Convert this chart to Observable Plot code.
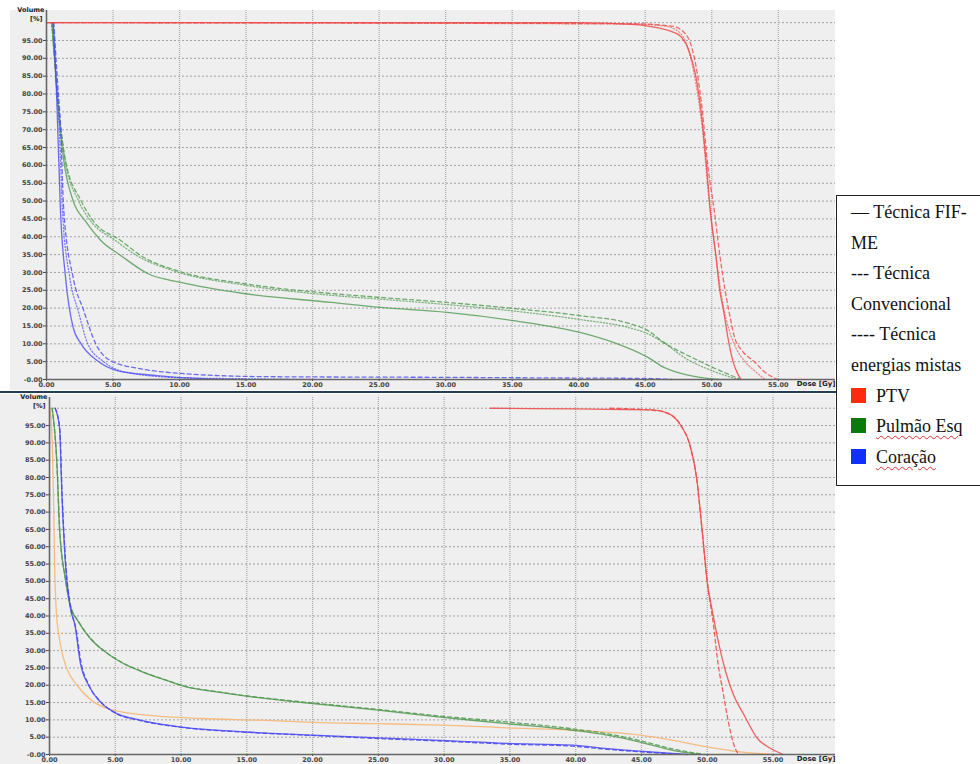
<!DOCTYPE html>
<html>
<head>
<meta charset="utf-8">
<script src="https://cdn.jsdelivr.net/npm/d3@7"></script>
<script src="https://cdn.jsdelivr.net/npm/@observablehq/plot@0.6"></script>
<style>
  body { margin: 0; width: 980px; height: 764px; background: #fff; position: relative; overflow: hidden; font-family: "DejaVu Sans", sans-serif; }
  #bgTop { position: absolute; left: 10px; top: 10px; width: 825px; height: 380px; background: #efefef; }
  #bgBot { position: absolute; left: 0px; top: 394px; width: 835px; height: 370px; background: #efefef; }
  #top { position: absolute; left: 0; top: 0; }
  #bot { position: absolute; left: 0; top: 392px; }
  #divider { position: absolute; left: 0; top: 390.5px; width: 836px; height: 2.5px; background: #243b5c; }
  #legend { position: absolute; left: 836px; top: 195px; width: 141px; height: 288px; border: 1.5px solid #222; background: #fff;
            font-family: "Liberation Serif", "DejaVu Serif", serif; font-size: 18px; color: #111; padding: 1px 0 0 14px; box-sizing: content-box; }
  #legend .row { height: 30.6px; line-height: 30.6px; white-space: nowrap; font-family: "Liberation Serif", "DejaVu Serif", serif; }
  #legend .sw { display: inline-block; width: 15px; height: 15px; vertical-align: -1px; margin-right: 10px; }
  #legend .spell { text-decoration: underline wavy #e03030; text-decoration-thickness: 1px; text-underline-offset: 3px; }
</style>
</head>
<body>
<div id="bgTop"></div>
<div id="bgBot"></div>
<div id="top"></div>
<div id="bot"></div>
<div id="divider"></div>
<div id="legend"></div>
<script>
// ---------- data: [dose (Gy), volume (%)] ----------
// Top panel
const ptvFifTop  = [[0,100],[40,100],[44,99.5],[46,98.5],[47,97.5],[47.7,96],[48.3,92],[48.8,85],[49.2,75],[49.6,60],[49.9,47],[50.3,35],[50.6,25],[50.9,19],[51.2,12],[51.6,5],[51.9,2],[52.2,0]];
const ptvConvTop = [[0,100],[44,99.7],[47,99],[48,97],[48.5,93],[48.9,86],[49.3,75],[49.7,60],[50.2,47],[50.6,35],[51,25],[51.3,19],[51.7,12],[52.3,8],[53.2,5],[54,2],[55,0]];
const ptvMistTop = [[0,100],[44,99.6],[46.5,99],[47.5,97.5],[48.2,93],[48.8,83],[49.3,70],[49.8,50],[50.3,35],[50.8,22],[51.3,14],[51.8,9],[52.5,5],[53.2,2.5],[54,0]];

const pulmFifTop  = [[0.4,100],[0.6,90],[0.9,75.4],[1.3,61.3],[2.0,50.1],[2.9,44.5],[4.1,38.9],[5.6,34.7],[7.6,29.7],[10.1,27.2],[14.8,24.1],[21.4,21.6],[25.1,20.2],[30.1,18.8],[35.1,16.5],[40.1,13.2],[42.6,10.4],[45.2,6.2],[46.4,3.4],[47.7,1.7],[49.7,0.3],[50.5,0]];
const pulmConvTop = [[0.4,100],[0.6,90],[0.95,75],[1.43,61.3],[2.6,50.1],[3.5,44.5],[5.6,38.9],[7.1,34.7],[9.8,30.5],[14.8,26.9],[21.4,24.1],[25.1,23],[30.1,21.6],[35.1,19.9],[40.1,17.9],[43.8,15.7],[45.2,13.7],[46.4,10.4],[49,5.3],[51.1,1.7],[52.2,0]];
const pulmMistTop = [[0.4,100],[0.6,90],[0.95,75],[1.4,61.3],[2.4,50.1],[3.3,44.5],[5.2,38.9],[6.8,34.7],[9.5,30.5],[14.8,26.5],[21.4,23.6],[25.1,22.5],[30.1,21],[35.1,19.2],[40.1,16.8],[43.8,14.5],[45.2,12.8],[46.5,10],[48,6],[50,2.5],[52,0]];

const corFifTop  = [[0.5,100],[0.65,90],[0.8,75.4],[1.05,47.3],[1.43,28.6],[2.0,14.6],[2.6,10],[3.8,5.3],[5.3,2.5],[8.3,1.1],[11.4,0.3],[15,0]];
const corConvTop = [[0.55,100],[0.8,85],[1.05,71],[1.3,47.3],[2.0,28.6],[2.8,19.3],[3.7,10],[4.8,5.3],[7.1,3.0],[10.1,1.7],[16.3,0.8],[30,0.6],[40,0.4],[45,0.3],[47,0]];
const corMistTop = [[0.5,100],[0.7,85],[0.95,71],[1.2,47.3],[1.75,28.6],[2.4,19],[3.1,10],[4.3,5],[6,2],[10,0.5],[15,0.2],[20,0]];

// Bottom panel
const ptvFifBot  = [[33.5,100],[45.9,99.5],[47,98.6],[48,95],[48.7,89.2],[49.2,79.7],[49.6,65.3],[50,49.8],[50.4,41.2],[50.9,31.6],[51.4,23.9],[52,17.2],[52.8,11.4],[53.8,4.7],[54.8,1.8],[55.8,0]];
const ptvConvBot = [[42.6,100],[45.9,99.4],[47,98.5],[48,95],[48.7,89],[49.2,79.5],[49.6,65],[50,49.8],[50.5,36.6],[50.8,26.8],[51.2,18],[51.5,11.5],[51.8,6],[52.1,2],[52.4,0]];

const pulmFifBot  = [[0.2,100],[0.56,84.4],[0.76,65.2],[1.2,50.8],[1.57,43],[2.2,38.3],[3.1,33.5],[4.1,30],[5.4,26.7],[7.1,23.8],[8.9,21.4],[10.4,19.5],[12.7,18.1],[15.5,16.6],[20,14.7],[25,12.8],[29.7,10.8],[34.8,8.9],[39.8,7],[42.4,5.6],[44.9,3.6],[47.4,1.2],[49.5,0]];
const pulmConvBot = [[0.2,100],[0.56,84],[0.78,65],[1.22,50.5],[1.6,43],[2.25,38.2],[3.15,33.4],[4.2,29.8],[5.5,26.6],[7.2,23.7],[9,21.3],[10.5,19.5],[12.8,18.1],[15.5,16.7],[20,14.9],[25,13],[29.7,11.1],[34.8,9.4],[39.8,7.4],[42.4,6],[44.9,4],[47.4,1.6],[49.8,0]];

const corFifBot  = [[0.43,100],[0.76,94.5],[0.94,75.4],[1.19,56.2],[1.57,42.7],[1.95,37],[2.33,26.7],[2.97,20],[3.86,15.2],[4.87,12.3],[6.9,9.9],[9.9,8],[15,6.5],[20,5.6],[25,4.8],[29.7,4.1],[34.8,3.2],[39.8,2.7],[42.4,1.7],[44.9,1],[48.5,0]];
const corConvBot = [[0.43,100],[0.78,94],[0.96,75],[1.22,56],[1.6,42.5],[2.0,36.5],[2.4,26.5],[3.0,20],[3.9,15.2],[4.9,12.2],[6.9,9.8],[9.9,7.9],[15,6.4],[20,5.5],[25,4.6],[29.7,3.9],[34.8,3],[39.8,2.4],[42.4,1.5],[44.9,0.8],[48,0]];

const extraBot = [[0,100],[0.1,97.8],[0.3,75.4],[0.38,56.2],[0.51,41.8],[0.81,32.2],[1.32,24.8],[2.1,20],[3.35,15.2],[4.87,12.8],[7.66,11.3],[11.5,10.4],[16,9.9],[20,9.3],[25,8.9],[29.7,8.5],[34.8,7.7],[39.8,7],[44.9,5.6],[47.4,4.1],[50,2.2],[52.5,0.75],[55,0]];

// ticks and labels
const doseTicks = d3.range(0, 56, 5);
const volTicks = d3.range(0, 100, 5);
const volGrid = d3.range(5, 101, 5);
const doseGrid = d3.range(5, 56, 5);
const techniques = ["— Técnica FIF-", "ME", "--- Técnica", "Convencional", "---- Técnica", "energias mistas"];
const structures = ["PTV", "Pulmão Esq", "Coração"];
const structureColors = ["#ff2a10", "#0a7a0a", "#1030ff"];

// ---------- drawing ----------
const dash = { fif: null, conv: "4,3", mist: "1.2,2" };
function curve(data, color, kind, opacity = 0.85) {
  return Plot.line(data, { x: d => d[0], y: d => d[1], stroke: color, strokeWidth: 1.3, strokeOpacity: opacity,
    strokeDasharray: dash[kind] || undefined, curve: "monotone-x" });
}
function panel({ height, marginLeft, marginTop, marginBottom, xMax, yMax, lines }) {
  const fmt = d3.format(".2f");
  return Plot.plot({
    width: 840, height, marginLeft, marginRight: 5, marginTop, marginBottom,
    style: { background: "transparent", fontSize: "6.5px", fontWeight: "bold", color: "#444", fontFamily: "DejaVu Sans, sans-serif" },
    x: { domain: [0, xMax], ticks: doseTicks, tickFormat: fmt, tickSize: 2, tickPadding: 1, label: null },
    y: { domain: [0, yMax], ticks: volTicks, tickFormat: d => d === 0 ? "-0.00" : fmt(d), tickSize: 3, tickPadding: 1, label: null },
    marks: [
      Plot.ruleY(volGrid, { stroke: "#9a9a9a", strokeDasharray: "2,2", strokeWidth: 0.9 }),
      Plot.ruleX(doseGrid, { stroke: "#a8a8a8", strokeDasharray: "1,1", strokeWidth: 1.2 }),
      ...lines,
      Plot.ruleX([0], { stroke: "#666", strokeWidth: 1.6 }),
      Plot.ruleY([0], { stroke: "#666", strokeWidth: 1.6 }),
      Plot.text(["Volume"], { frameAnchor: "top-left", textAnchor: "end", dx: -2, dy: -3, fontWeight: "bold", fill: "#222" }),
      Plot.text(["[%]"], { frameAnchor: "top-left", textAnchor: "end", dx: -4, dy: 6, fontWeight: "bold", fill: "#222" }),
      Plot.text(["Dose [Gy]"], { frameAnchor: "bottom-right", textAnchor: "end", dy: 6, dx: 0, fontWeight: "bold", fill: "#222", fontSize: 7 })
    ]
  });
}

const RED = "#f04848", GREEN = "#4f984f", BLUE = "#4a4af2", ORANGE = "#f6b673";

document.getElementById("top").append(panel({
  height: 392, marginLeft: 46, marginTop: 10, marginBottom: 13, xMax: 59.3, yMax: 103.4,
  lines: [
    curve(pulmMistTop, GREEN, "mist", 0.7), curve(pulmConvTop, GREEN, "conv", 0.8), curve(pulmFifTop, GREEN, "fif", 0.8),
    curve(corMistTop, BLUE, "mist", 0.7), curve(corConvTop, BLUE, "conv", 0.8), curve(corFifTop, BLUE, "fif", 0.8),
    curve(ptvMistTop, RED, "mist", 0.6), curve(ptvConvTop, RED, "conv", 0.8), curve(ptvFifTop, RED, "fif", 0.85)
  ]
}));

document.getElementById("bot").append(panel({
  height: 372, marginLeft: 49, marginTop: 5, marginBottom: 10, xMax: 59.75, yMax: 103.1,
  lines: [
    curve(extraBot, ORANGE, "fif", 0.9),
    curve(pulmConvBot, GREEN, "conv", 0.85), curve(pulmFifBot, GREEN, "fif", 0.85),
    curve(corConvBot, BLUE, "conv", 0.9), curve(corFifBot, BLUE, "fif", 0.85),
    curve(ptvConvBot, RED, "conv", 0.85), curve(ptvFifBot, RED, "fif", 0.85)
  ]
}));

// legend
const legend = d3.select("#legend");
techniques.forEach(t => legend.append("div").attr("class", "row").text(t));
structures.forEach((s, i) => {
  const row = legend.append("div").attr("class", "row");
  row.append("span").attr("class", "sw").style("background", structureColors[i]);
  row.append("span").attr("class", i > 0 ? "spell" : null).text(s);
});
</script>
</body>
</html>
